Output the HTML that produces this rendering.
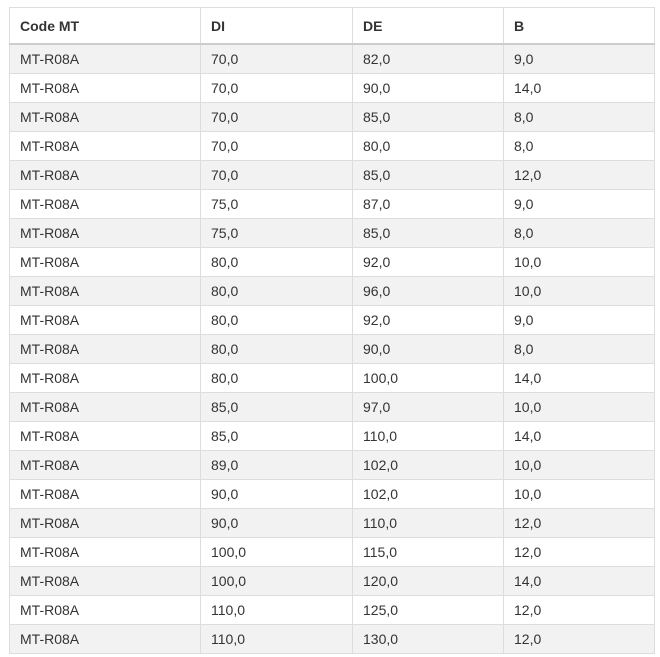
<!DOCTYPE html>
<html><head><meta charset="utf-8"><style>
body{margin:0;background:#fff;width:660px;height:657px;overflow:hidden;font-family:"Liberation Sans",sans-serif;}
table{position:absolute;left:9px;top:7px;width:645px;border-collapse:collapse;table-layout:fixed;font-size:14px;color:#333;}
td,th{border:1px solid #ddd;padding:0 0 0 10px;text-align:left;height:28px;}
th{height:35px;border-bottom:2px solid #ccc;font-weight:bold;}
tr.g td{background:#f2f2f2;}
</style></head><body>
<table>
<colgroup><col style="width:191px"><col style="width:152px"><col style="width:151px"><col style="width:151px"></colgroup>
<thead><tr><th>Code MT</th><th>DI</th><th>DE</th><th>B</th></tr></thead>
<tbody id="tb"></tbody></table>
<script>
const di=["70,0","70,0","70,0","70,0","70,0","75,0","75,0","80,0","80,0","80,0","80,0","80,0","85,0","85,0","89,0","90,0","90,0","100,0","100,0","110,0","110,0"];
const de=["82,0","90,0","85,0","80,0","85,0","87,0","85,0","92,0","96,0","92,0","90,0","100,0","97,0","110,0","102,0","102,0","110,0","115,0","120,0","125,0","130,0"];
const b=["9,0","14,0","8,0","8,0","12,0","9,0","8,0","10,0","10,0","9,0","8,0","14,0","10,0","14,0","10,0","10,0","12,0","12,0","14,0","12,0","12,0"];
const tb=document.getElementById('tb');
di.forEach((v,i)=>{
const tr=document.createElement('tr');


if(i%2===0)tr.className='g';
["MT-R08A",v,de[i],b[i]].forEach(t=>{
const td=document.createElement('td');


td.textContent=t;tr.appendChild(td);});
tb.appendChild(tr);});
</script>
</body></html>
